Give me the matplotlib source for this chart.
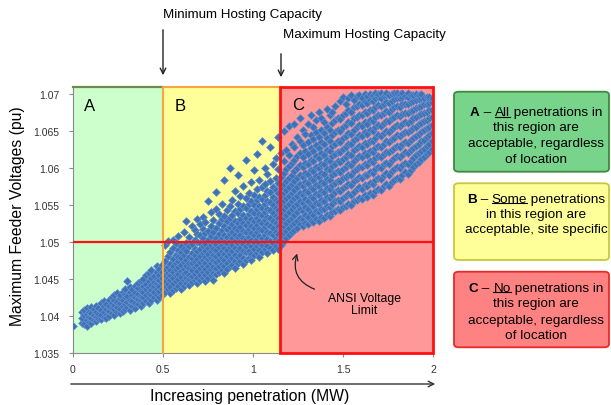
import numpy as np
import matplotlib
matplotlib.use("Agg")
import matplotlib.pyplot as plt
from matplotlib.patches import Rectangle, FancyBboxPatch
from matplotlib.lines import Line2D

plt.rcParams['font.family'] = ['Liberation Sans', 'DejaVu Sans']

# penetration (MW) for each column of points
pen_cols = [0.000, 0.048, 0.062, 0.075, 0.088, 0.100, 0.115, 0.128, 0.140, 0.155,
            0.170, 0.185, 0.200, 0.215, 0.230, 0.245, 0.260, 0.275, 0.290, 0.300,
            0.315, 0.330, 0.345, 0.360, 0.375, 0.390, 0.405, 0.420, 0.435, 0.450,
            0.465, 0.480, 0.495,
            0.510, 0.525, 0.540, 0.555, 0.570, 0.585, 0.600, 0.615, 0.630, 0.645,
            0.660, 0.675, 0.690, 0.705, 0.720, 0.735, 0.750, 0.765, 0.780, 0.795,
            0.810, 0.825, 0.840, 0.855, 0.870, 0.885, 0.900, 0.915, 0.930, 0.945,
            0.960, 0.975, 0.990, 1.005, 1.020, 1.035, 1.050, 1.065, 1.080, 1.095,
            1.110, 1.125, 1.140, 1.155, 1.170, 1.185, 1.200, 1.215, 1.230, 1.245,
            1.260, 1.275, 1.290, 1.305, 1.320, 1.335, 1.350, 1.365, 1.380, 1.395,
            1.410, 1.425, 1.440, 1.455, 1.470, 1.485, 1.500, 1.515, 1.530, 1.545,
            1.560, 1.575, 1.590, 1.605, 1.620, 1.635, 1.650, 1.665, 1.680, 1.695,
            1.710, 1.725, 1.740, 1.755, 1.770, 1.785, 1.800, 1.815, 1.830, 1.845,
            1.860, 1.875, 1.890, 1.905, 1.920, 1.935, 1.950, 1.965, 1.980, 1.995]

# maximum feeder voltages (pu) in each column
volt_cols = [
    [1.0386],
    [1.0391, 1.0397, 1.0405],
    [1.0389, 1.0401, 1.0408],
    [1.0394, 1.0387, 1.0403, 1.0411],
    [1.0392, 1.0399, 1.0406],
    [1.0390, 1.0397, 1.0404, 1.0412],
    [1.0395, 1.0401, 1.0409],
    [1.0393, 1.0405, 1.0414, 1.0399],
    [1.0397, 1.0403, 1.0411],
    [1.0396, 1.0408, 1.0401, 1.0418],
    [1.0399, 1.0405, 1.0413, 1.0420],
    [1.0402, 1.0397, 1.0410, 1.0416],
    [1.0400, 1.0407, 1.0414, 1.0422],
    [1.0404, 1.0411, 1.0418, 1.0425],
    [1.0401, 1.0409, 1.0415, 1.0421, 1.0428],
    [1.0406, 1.0412, 1.0419, 1.0431],
    [1.0404, 1.0410, 1.0417, 1.0424, 1.0429],
    [1.0407, 1.0414, 1.0421, 1.0433],
    [1.0409, 1.0416, 1.0425, 1.0430, 1.0437],
    [1.0412, 1.0419, 1.0427, 1.0447],
    [1.0408, 1.0415, 1.0422, 1.0433, 1.0439],
    [1.0413, 1.0420, 1.0428, 1.0436],
    [1.0411, 1.0418, 1.0425, 1.0431, 1.0441],
    [1.0416, 1.0423, 1.0430, 1.0438, 1.0444],
    [1.0413, 1.0421, 1.0427, 1.0434, 1.0447],
    [1.0418, 1.0425, 1.0433, 1.0440, 1.0450],
    [1.0420, 1.0429, 1.0436, 1.0443, 1.0455],
    [1.0417, 1.0424, 1.0431, 1.0439, 1.0447, 1.0458],
    [1.0422, 1.0428, 1.0435, 1.0442, 1.0451, 1.0462],
    [1.0425, 1.0432, 1.0440, 1.0446, 1.0454],
    [1.0421, 1.0429, 1.0437, 1.0444, 1.0450, 1.0459, 1.0467],
    [1.0426, 1.0434, 1.0441, 1.0448, 1.0456, 1.0464],
    [1.0429, 1.0437, 1.0445, 1.0452, 1.0460, 1.0469],
    [1.0432, 1.0440, 1.0447, 1.0455, 1.0463, 1.0474, 1.0496],
    [1.0436, 1.0443, 1.0451, 1.0458, 1.0466, 1.0481, 1.0501],
    [1.0431, 1.0439, 1.0448, 1.0456, 1.0462, 1.0470, 1.0486],
    [1.0435, 1.0444, 1.0452, 1.0459, 1.0467, 1.0477, 1.0492, 1.0503],
    [1.0438, 1.0447, 1.0455, 1.0463, 1.0471, 1.0483, 1.0498],
    [1.0441, 1.0450, 1.0457, 1.0466, 1.0474, 1.0480, 1.0489, 1.0508],
    [1.0437, 1.0445, 1.0453, 1.0461, 1.0469, 1.0478, 1.0486, 1.0495],
    [1.0440, 1.0449, 1.0458, 1.0464, 1.0473, 1.0482, 1.0491, 1.0513],
    [1.0444, 1.0452, 1.0460, 1.0468, 1.0476, 1.0488, 1.0499, 1.0528],
    [1.0442, 1.0450, 1.0456, 1.0465, 1.0472, 1.0480, 1.0494, 1.0507],
    [1.0446, 1.0454, 1.0462, 1.0471, 1.0478, 1.0485, 1.0497, 1.0521],
    [1.0449, 1.0457, 1.0466, 1.0474, 1.0483, 1.0491, 1.0503, 1.0516],
    [1.0445, 1.0452, 1.0461, 1.0469, 1.0477, 1.0488, 1.0500, 1.0511, 1.0531],
    [1.0448, 1.0456, 1.0465, 1.0473, 1.0481, 1.0490, 1.0498, 1.0509, 1.0524],
    [1.0452, 1.0460, 1.0468, 1.0476, 1.0485, 1.0494, 1.0505, 1.0518, 1.0534],
    [1.0447, 1.0455, 1.0464, 1.0472, 1.0480, 1.0488, 1.0497, 1.0512, 1.0527],
    [1.0451, 1.0459, 1.0468, 1.0477, 1.0484, 1.0492, 1.0503, 1.0515, 1.0556],
    [1.0455, 1.0463, 1.0471, 1.0479, 1.0488, 1.0496, 1.0508, 1.0522, 1.0540],
    [1.0449, 1.0458, 1.0466, 1.0475, 1.0483, 1.0491, 1.0500, 1.0513, 1.0530],
    [1.0457, 1.0465, 1.0473, 1.0481, 1.0489, 1.0497, 1.0506, 1.0519, 1.0545, 1.0567],
    [1.0460, 1.0468, 1.0476, 1.0484, 1.0493, 1.0501, 1.0511, 1.0526, 1.0538],
    [1.0462, 1.0470, 1.0479, 1.0488, 1.0496, 1.0505, 1.0516, 1.0531, 1.0551],
    [1.0458, 1.0467, 1.0475, 1.0484, 1.0492, 1.0500, 1.0509, 1.0521, 1.0535, 1.0584],
    [1.0464, 1.0472, 1.0481, 1.0489, 1.0498, 1.0507, 1.0517, 1.0528, 1.0543],
    [1.0467, 1.0476, 1.0484, 1.0493, 1.0502, 1.0511, 1.0520, 1.0532, 1.0548, 1.0600],
    [1.0469, 1.0479, 1.0488, 1.0496, 1.0505, 1.0514, 1.0524, 1.0537, 1.0557],
    [1.0465, 1.0474, 1.0483, 1.0492, 1.0501, 1.0510, 1.0519, 1.0529, 1.0542, 1.0569],
    [1.0471, 1.0480, 1.0489, 1.0498, 1.0507, 1.0516, 1.0526, 1.0539, 1.0552, 1.0591],
    [1.0474, 1.0483, 1.0492, 1.0501, 1.0510, 1.0520, 1.0531, 1.0545, 1.0562],
    [1.0470, 1.0479, 1.0488, 1.0497, 1.0506, 1.0515, 1.0525, 1.0536, 1.0549, 1.0575],
    [1.0476, 1.0486, 1.0495, 1.0504, 1.0513, 1.0523, 1.0533, 1.0546, 1.0559, 1.0611],
    [1.0479, 1.0488, 1.0497, 1.0507, 1.0517, 1.0527, 1.0538, 1.0551, 1.0566],
    [1.0475, 1.0484, 1.0494, 1.0503, 1.0512, 1.0521, 1.0531, 1.0542, 1.0556, 1.0581],
    [1.0482, 1.0491, 1.0500, 1.0510, 1.0519, 1.0529, 1.0539, 1.0550, 1.0563, 1.0597],
    [1.0485, 1.0494, 1.0504, 1.0513, 1.0523, 1.0533, 1.0544, 1.0557, 1.0571, 1.0619],
    [1.0480, 1.0489, 1.0499, 1.0508, 1.0518, 1.0528, 1.0538, 1.0549, 1.0561, 1.0584],
    [1.0487, 1.0496, 1.0506, 1.0516, 1.0526, 1.0536, 1.0546, 1.0558, 1.0574, 1.0636],
    [1.0490, 1.0500, 1.0510, 1.0520, 1.0530, 1.0540, 1.0551, 1.0564, 1.0579, 1.0600],
    [1.0485, 1.0494, 1.0504, 1.0514, 1.0524, 1.0534, 1.0545, 1.0556, 1.0569, 1.0592],
    [1.0492, 1.0502, 1.0512, 1.0522, 1.0532, 1.0543, 1.0554, 1.0567, 1.0583, 1.0629],
    [1.0489, 1.0499, 1.0509, 1.0519, 1.0529, 1.0539, 1.0550, 1.0561, 1.0574, 1.0605],
    [1.0494, 1.0504, 1.0514, 1.0525, 1.0535, 1.0546, 1.0557, 1.0570, 1.0587, 1.0613],
    [1.0491, 1.0501, 1.0511, 1.0521, 1.0532, 1.0543, 1.0554, 1.0566, 1.0580, 1.0598, 1.0642],
    [1.0496, 1.0507, 1.0517, 1.0528, 1.0539, 1.0550, 1.0561, 1.0573, 1.0588, 1.0620],
    [1.0502, 1.0512, 1.0522, 1.0533, 1.0544, 1.0555, 1.0566, 1.0578, 1.0593, 1.0610, 1.0650],
    [1.0506, 1.0515, 1.0526, 1.0537, 1.0548, 1.0559, 1.0570, 1.0583, 1.0598, 1.0625],
    [1.0510, 1.0519, 1.0530, 1.0540, 1.0551, 1.0562, 1.0574, 1.0587, 1.0603, 1.0618, 1.0657],
    [1.0513, 1.0523, 1.0533, 1.0544, 1.0555, 1.0566, 1.0578, 1.0591, 1.0607, 1.0633],
    [1.0516, 1.0526, 1.0537, 1.0548, 1.0559, 1.0570, 1.0582, 1.0596, 1.0611, 1.0628, 1.0660],
    [1.0519, 1.0529, 1.0540, 1.0551, 1.0562, 1.0574, 1.0586, 1.0600, 1.0616, 1.0642],
    [1.0524, 1.0533, 1.0544, 1.0555, 1.0566, 1.0578, 1.0590, 1.0604, 1.0620, 1.0637, 1.0667],
    [1.0522, 1.0531, 1.0542, 1.0553, 1.0564, 1.0576, 1.0588, 1.0601, 1.0615, 1.0631, 1.0652],
    [1.0526, 1.0536, 1.0547, 1.0558, 1.0569, 1.0581, 1.0593, 1.0607, 1.0623, 1.0646],
    [1.0524, 1.0534, 1.0545, 1.0556, 1.0568, 1.0580, 1.0592, 1.0605, 1.0619, 1.0635, 1.0660],
    [1.0529, 1.0539, 1.0550, 1.0561, 1.0573, 1.0585, 1.0597, 1.0611, 1.0627, 1.0644, 1.0671],
    [1.0527, 1.0537, 1.0548, 1.0560, 1.0572, 1.0584, 1.0596, 1.0609, 1.0623, 1.0639, 1.0656],
    [1.0531, 1.0542, 1.0553, 1.0565, 1.0577, 1.0589, 1.0602, 1.0616, 1.0631, 1.0649, 1.0665],
    [1.0529, 1.0540, 1.0552, 1.0564, 1.0576, 1.0588, 1.0600, 1.0613, 1.0627, 1.0642, 1.0676],
    [1.0534, 1.0545, 1.0557, 1.0569, 1.0581, 1.0593, 1.0606, 1.0620, 1.0635, 1.0652, 1.0668],
    [1.0532, 1.0544, 1.0556, 1.0568, 1.0580, 1.0592, 1.0605, 1.0618, 1.0632, 1.0647, 1.0662],
    [1.0537, 1.0549, 1.0561, 1.0573, 1.0585, 1.0598, 1.0611, 1.0625, 1.0640, 1.0656, 1.0680],
    [1.0535, 1.0547, 1.0559, 1.0571, 1.0584, 1.0597, 1.0610, 1.0623, 1.0637, 1.0652, 1.0671],
    [1.0540, 1.0552, 1.0564, 1.0577, 1.0590, 1.0603, 1.0616, 1.0630, 1.0645, 1.0661, 1.0676],
    [1.0542, 1.0555, 1.0567, 1.0580, 1.0593, 1.0606, 1.0619, 1.0633, 1.0648, 1.0665, 1.0684],
    [1.0545, 1.0557, 1.0570, 1.0583, 1.0596, 1.0609, 1.0622, 1.0636, 1.0651, 1.0668],
    [1.0543, 1.0556, 1.0569, 1.0582, 1.0595, 1.0608, 1.0621, 1.0635, 1.0650, 1.0666, 1.0690],
    [1.0547, 1.0560, 1.0573, 1.0586, 1.0599, 1.0612, 1.0626, 1.0640, 1.0655, 1.0671, 1.0696],
    [1.0549, 1.0562, 1.0575, 1.0588, 1.0601, 1.0615, 1.0629, 1.0643, 1.0658, 1.0674, 1.0686],
    [1.0552, 1.0565, 1.0578, 1.0591, 1.0605, 1.0619, 1.0633, 1.0647, 1.0662, 1.0678, 1.0694],
    [1.0550, 1.0563, 1.0577, 1.0590, 1.0604, 1.0618, 1.0632, 1.0646, 1.0661, 1.0676, 1.0698],
    [1.0555, 1.0568, 1.0582, 1.0596, 1.0610, 1.0624, 1.0638, 1.0652, 1.0667, 1.0682, 1.0692],
    [1.0557, 1.0571, 1.0585, 1.0599, 1.0613, 1.0627, 1.0641, 1.0655, 1.0669, 1.0684, 1.0697],
    [1.0560, 1.0574, 1.0588, 1.0602, 1.0616, 1.0630, 1.0644, 1.0658, 1.0672, 1.0686, 1.0699],
    [1.0558, 1.0572, 1.0586, 1.0601, 1.0615, 1.0629, 1.0643, 1.0657, 1.0671, 1.0685, 1.0695],
    [1.0563, 1.0577, 1.0591, 1.0606, 1.0620, 1.0634, 1.0648, 1.0662, 1.0676, 1.0689, 1.0700],
    [1.0561, 1.0575, 1.0590, 1.0604, 1.0618, 1.0632, 1.0646, 1.0660, 1.0674, 1.0688, 1.0697],
    [1.0566, 1.0580, 1.0594, 1.0609, 1.0623, 1.0637, 1.0651, 1.0665, 1.0679, 1.0692, 1.0700],
    [1.0564, 1.0579, 1.0593, 1.0608, 1.0622, 1.0636, 1.0650, 1.0664, 1.0678, 1.0691, 1.0699],
    [1.0569, 1.0584, 1.0598, 1.0613, 1.0627, 1.0641, 1.0655, 1.0669, 1.0682, 1.0694, 1.0701],
    [1.0572, 1.0587, 1.0601, 1.0616, 1.0630, 1.0644, 1.0658, 1.0672, 1.0685, 1.0696, 1.0700],
    [1.0570, 1.0585, 1.0600, 1.0615, 1.0629, 1.0643, 1.0657, 1.0671, 1.0684, 1.0695, 1.0701],
    [1.0575, 1.0590, 1.0605, 1.0619, 1.0633, 1.0647, 1.0661, 1.0674, 1.0687, 1.0697],
    [1.0578, 1.0593, 1.0607, 1.0622, 1.0636, 1.0650, 1.0664, 1.0677, 1.0689, 1.0699, 1.0701],
    [1.0576, 1.0591, 1.0606, 1.0621, 1.0635, 1.0649, 1.0663, 1.0676, 1.0688, 1.0698],
    [1.0581, 1.0596, 1.0611, 1.0625, 1.0639, 1.0653, 1.0667, 1.0680, 1.0691, 1.0700],
    [1.0584, 1.0598, 1.0613, 1.0627, 1.0641, 1.0655, 1.0669, 1.0682, 1.0693, 1.0701],
    [1.0587, 1.0601, 1.0616, 1.0630, 1.0644, 1.0658, 1.0671, 1.0684, 1.0695, 1.0701],
    [1.0585, 1.0600, 1.0615, 1.0629, 1.0643, 1.0657, 1.0670, 1.0683, 1.0694, 1.0700],
    [1.0590, 1.0604, 1.0618, 1.0632, 1.0646, 1.0660, 1.0673, 1.0686, 1.0696, 1.0701],
    [1.0594, 1.0607, 1.0621, 1.0635, 1.0649, 1.0662, 1.0675, 1.0687, 1.0697],
    [1.0592, 1.0606, 1.0620, 1.0634, 1.0648, 1.0661, 1.0674, 1.0686, 1.0696, 1.0701],
    [1.0597, 1.0610, 1.0624, 1.0638, 1.0651, 1.0664, 1.0677, 1.0689, 1.0698],
    [1.0601, 1.0614, 1.0627, 1.0641, 1.0654, 1.0667, 1.0679, 1.0690, 1.0699],
    [1.0605, 1.0617, 1.0630, 1.0643, 1.0656, 1.0669, 1.0681, 1.0692, 1.0700],
    [1.0608, 1.0620, 1.0633, 1.0646, 1.0659, 1.0671, 1.0683, 1.0693, 1.0699],
    [1.0612, 1.0623, 1.0636, 1.0649, 1.0661, 1.0673, 1.0684, 1.0694, 1.0700],
    [1.0615, 1.0626, 1.0638, 1.0651, 1.0663, 1.0675, 1.0686, 1.0695],
    [1.0619, 1.0630, 1.0642, 1.0654, 1.0665, 1.0676, 1.0687, 1.0696],
    [1.0622, 1.0633, 1.0644, 1.0656, 1.0667, 1.0678, 1.0688, 1.0696],
    [1.0626, 1.0636, 1.0647, 1.0658, 1.0669, 1.0679, 1.0689, 1.0695],
]
assert len(pen_cols) == len(volt_cols)

x_ticks = [0, 0.5, 1, 1.5, 2]
x_ticklabels = ['0', '0.5', '1', '1.5', '2']
y_ticks = [1.035, 1.04, 1.045, 1.05, 1.055, 1.06, 1.065, 1.07]
y_ticklabels = ['1.035', '1.04', '1.045', '1.05', '1.055', '1.06', '1.065', '1.07']

min_hc = 0.5
max_hc = 1.15
ansi_limit = 1.05

W, H = 611, 406


def px(x, y):
    # pixel position (from top-left) -> figure fraction
    return (x / W, 1 - y / H)


fig = plt.figure(figsize=(W / 100, H / 100), dpi=100)
ax = fig.add_axes([73 / W, 52 / H, 360 / W, 266 / H])
y_top = 1.07 + 7 / 7400
ax.set_xlim(0, 2)
ax.set_ylim(1.035, y_top)

# regions
ax.add_patch(Rectangle((0, 1.035), min_hc, y_top - 1.035, fc='#ccffcc', ec='none', zorder=0))
ax.add_patch(Rectangle((min_hc, 1.035), max_hc - min_hc, y_top - 1.035, fc='#ffff99', ec='none', zorder=0))
ax.add_patch(Rectangle((max_hc, 1.035), 2 - max_hc, y_top - 1.035, fc='#ff9999', ec='none', zorder=0))

ax.plot([0, min_hc], [y_top, y_top], color='#6b8c4a', lw=1.6, zorder=4, clip_on=False)
ax.plot([min_hc, min_hc, max_hc], [1.035, y_top, y_top], color='#f7a541', lw=1.5, zorder=4, clip_on=False)
ax.add_patch(Rectangle((max_hc, 1.035), 2 - max_hc, y_top - 1.035, fill=False, ec='#ff1010',
                       lw=2, zorder=5, clip_on=False))
ax.plot([0, 2], [ansi_limit, ansi_limit], color='#ff1010', lw=1.6, zorder=5)

# scatter
xs = []
ys = []
for xv, col in zip(pen_cols, volt_cols):
    for v in col:
        xs.append(xv)
        ys.append(v)
ax.scatter(xs, ys, marker='D', s=16, c='#3f71b4', edgecolors='#6593d2', linewidths=0.5, zorder=3)

# axes styling
for side in ['top', 'right']:
    ax.spines[side].set_visible(False)
for side in ['left', 'bottom']:
    ax.spines[side].set_color('#8a8a8a')
ax.set_xticks(x_ticks)
ax.set_xticklabels(x_ticklabels)
ax.set_yticks(y_ticks)
ax.set_yticklabels(y_ticklabels)
ax.tick_params(axis='both', direction='out', length=3, color='#8a8a8a', labelsize=7.5, labelcolor='#333333')
ax.tick_params(axis='x', pad=5)
ax.tick_params(axis='y', pad=7)

# region letters
ax.text(0.094, 1.0684, 'A', fontsize=12, ha='center', va='center', zorder=6)
ax.text(0.594, 1.0684, 'B', fontsize=12, ha='center', va='center', zorder=6)
ax.text(1.25, 1.0686, 'C', fontsize=12, ha='center', va='center', zorder=6)

# ANSI voltage limit note
ax.text(1.617, 1.0416, 'ANSI Voltage\nLimit', fontsize=8.8, ha='center', va='center',
        linespacing=1.05, zorder=6)
ax.annotate('', xy=(1.25, 1.0488), xytext=(1.356, 1.0435),
            arrowprops=dict(arrowstyle='->', color='#222222', lw=0.9,
                            connectionstyle='arc3,rad=-0.5'), zorder=6)

# axis titles and the bottom arrow
fig.text(*px(250, 397), 'Increasing penetration (MW)', fontsize=11.3, ha='center', va='center')
fig.text(*px(18, 216), 'Maximum Feeder Voltages (pu)', fontsize=11.3, ha='center', va='center', rotation=90)
ax.annotate('', xy=px(438, 385), xytext=px(68, 385), xycoords='figure fraction',
            arrowprops=dict(arrowstyle='->', color='#333333', lw=1))

# hosting capacity callouts
fig.text(*px(163, 15), 'Minimum Hosting Capacity', fontsize=9.6, ha='left', va='center')
fig.text(*px(283, 35), 'Maximum Hosting Capacity', fontsize=9.6, ha='left', va='center')
ax.annotate('', xy=px(163, 79), xytext=px(163, 28), xycoords='figure fraction',
            arrowprops=dict(arrowstyle='->', color='#222222', lw=1))
ax.annotate('', xy=px(281, 81), xytext=px(281, 52), xycoords='figure fraction',
            arrowprops=dict(arrowstyle='->', color='#222222', lw=1))

# legend boxes on the right
boxes = [
    (92.7, 172.7, '#77d48a', '#3f8a3f'),
    (184.3, 261.0, '#ffff99', '#c8c83c'),
    (272.7, 348.3, '#ff8282', '#e82a2a'),
]
for top, bot, fc, ec in boxes:
    x0, y0 = px(454, bot)
    fig.patches.append(FancyBboxPatch((x0, y0), 155 / W, (bot - top) / H,
                                      boxstyle='round,pad=0,rounding_size=0.008',
                                      fc=fc, ec=ec, lw=1.3, transform=fig.transFigure, figure=fig))

box_fs = 9.7
cx = 536
first_lines = [
    (111.7, [('A', True, False), (' \u2013 ', False, False), ('All', False, True), (' penetrations in', False, False)]),
    (198.3, [('B', True, False), (' \u2013 ', False, False), ('Some', False, True), (' penetrations', False, False)]),
    (287.3, [('C', True, False), (' \u2013 ', False, False), ('No', False, True), (' penetrations in', False, False)]),
]
other_lines = [
    (126.7, 'this region are'), (143.0, 'acceptable, regardless'), (159.0, 'of location'),
    (213.3, 'in this region are'), (228.3, 'acceptable, site specific'),
    (302.7, 'this region are'), (319.3, 'acceptable, regardless'), (335.0, 'of location'),
]
for yc, s in other_lines:
    fig.text(*px(cx, yc + 4.5), s, fontsize=box_fs, ha='center', va='baseline')

fig.canvas.draw()
renderer = fig.canvas.get_renderer()
for yc, parts in first_lines:
    base = yc + 4.5
    texts = []
    for s, bold, ul in parts:
        t = fig.text(0, px(0, base)[1], s, fontsize=box_fs, ha='left', va='baseline',
                     fontweight='bold' if bold else 'normal')
        texts.append(t)
    widths = [t.get_window_extent(renderer).width for t in texts]
    x = cx - sum(widths) / 2
    for t, w, (s, bold, ul) in zip(texts, widths, parts):
        t.set_x(x / W)
        if ul:
            fig.add_artist(Line2D([x / W, (x + w) / W], [px(0, base + 1.6)[1]] * 2,
                                  color='black', lw=0.8, transform=fig.transFigure))
        x += w

fig.savefig('out.png', dpi=100)
